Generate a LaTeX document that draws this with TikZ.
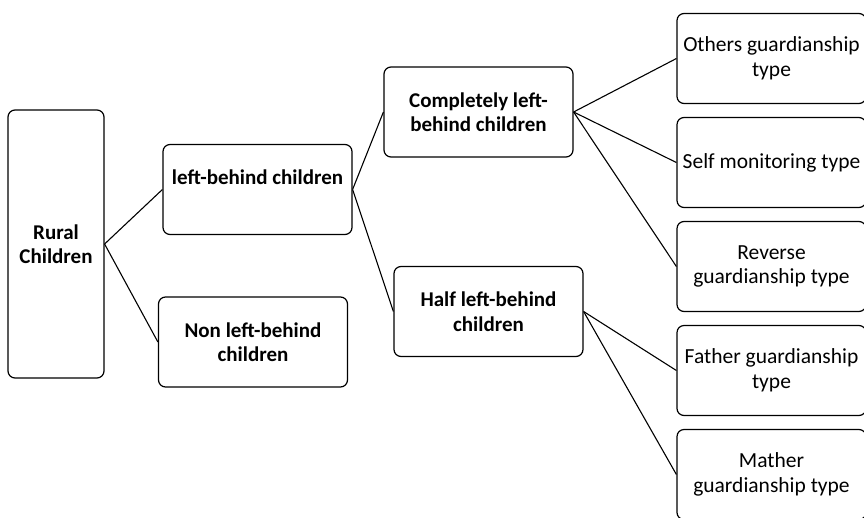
\documentclass[tikz,border=0pt]{standalone}
\usepackage{fontspec}
\setmainfont{Carlito}
\usepackage{tikz}
\usetikzlibrary{positioning}

\begin{document}
\begin{tikzpicture}[on grid,
    box/.style={draw, rounded corners=7pt, line width=1.2pt, align=center,
      minimum width=189pt, minimum height=90pt, inner sep=1pt,
      font=\fontsize{21.5}{24.5}\selectfont},
    hard/.style={box, font=\fontsize{21}{24.5}\selectfont\bfseries},
    leaf/.style={box}]
   \useasboundingbox (0,0) rectangle (864pt,-517pt);
   \node[hard,minimum width=96pt,minimum height=268pt] (rural) at (56pt,-244pt) {Rural\\Children};
   \node[hard] (lbc)  [above right=54.5pt and 201.5pt of rural] {left-behind children\\\mbox{}};
   \node[hard] (non)  [below right=98pt and 197pt of rural] {Non left-behind\\children};
   \node[hard] (comp) [above right=77.5pt and 221pt of lbc] {Completely left-\\behind children};
   \node[hard] (half) [below right=122pt and 231pt of lbc] {Half left-behind\\children};
   \node[leaf] (others)  [above right=53.5pt and 293pt of comp] {Others guardianship\\type};
   \node[leaf] (self)    [below=104pt of others] {Self monitoring type};
   \node[leaf] (reverse) [below=104pt of self] {Reverse\\guardianship type};
   \node[leaf] (father)  [below=104pt of reverse] {Father guardianship\\type};
   \node[leaf] (mather)  [below=104pt of father] {Mather\\guardianship type};
    \path[line width=1.1pt]
    (rural.east) edge (lbc.west)
                 edge (non.west)
    (lbc.east)   edge (comp.west)
                 edge (half.west)
    (comp.east)  edge (others.west)
                 edge (self.west)
                 edge (reverse.west)
    (half.east)  edge (father.west)
                 edge (mather.west);
\end{tikzpicture}
\end{document}
